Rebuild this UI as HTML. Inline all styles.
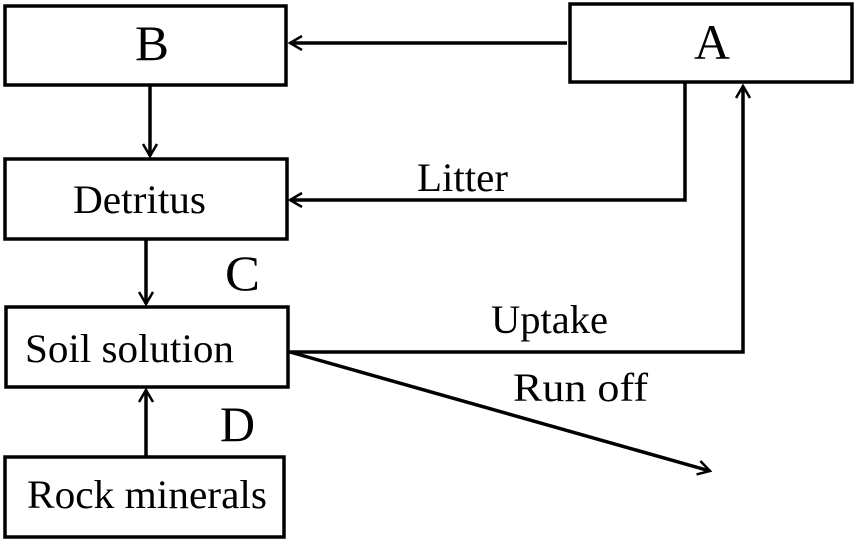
<!DOCTYPE html>
<html><head><style>html,body{margin:0;padding:0;background:#fff}svg{display:block}</style></head>
<body>
<svg width="854" height="541" viewBox="0 0 854 541" xmlns="http://www.w3.org/2000/svg" font-family="Liberation Serif, serif" fill="#000">
<defs>
<marker id="ar" markerWidth="20" markerHeight="20" refX="16" refY="8" orient="auto" markerUnits="userSpaceOnUse">
<path d="M4,1 L16,8 L4,15" fill="none" stroke="#000" stroke-width="2.5"/>
</marker>
</defs>
<g fill="none" stroke="#000" stroke-width="3.5">
<rect x="5" y="6" width="281" height="79"/>
<rect x="570" y="4" width="282" height="78"/>
<rect x="5" y="159" width="282" height="80"/>
<rect x="6" y="307" width="282" height="80"/>
<rect x="5" y="457" width="279" height="80"/>
<line x1="567" y1="43" x2="290" y2="43" marker-end="url(#ar)"/>
<line x1="150" y1="86" x2="150" y2="156" marker-end="url(#ar)"/>
<polyline points="685,83 685,200 290,200" marker-end="url(#ar)"/>
<line x1="146" y1="240" x2="146" y2="304" marker-end="url(#ar)"/>
<polyline points="288,352 743,352 743,86" marker-end="url(#ar)"/>
<line x1="290" y1="352" x2="710" y2="471" marker-end="url(#ar)"/>
<line x1="146" y1="456" x2="146" y2="390" marker-end="url(#ar)"/>
</g>
<text x="135" y="60" font-size="50" textLength="34" lengthAdjust="spacingAndGlyphs">B</text>
<text x="694" y="59" font-size="50" textLength="36" lengthAdjust="spacingAndGlyphs">A</text>
<text x="73" y="213" font-size="40" textLength="133" lengthAdjust="spacingAndGlyphs">Detritus</text>
<text x="417" y="191" font-size="40" textLength="91" lengthAdjust="spacingAndGlyphs">Litter</text>
<text x="225" y="290" font-size="50" textLength="35" lengthAdjust="spacingAndGlyphs">C</text>
<text x="491" y="333" font-size="40" textLength="117" lengthAdjust="spacingAndGlyphs">Uptake</text>
<text x="25" y="362" font-size="40" textLength="209" lengthAdjust="spacingAndGlyphs">Soil solution</text>
<text x="513" y="401" font-size="40" textLength="135" lengthAdjust="spacingAndGlyphs">Run off</text>
<text x="220" y="441" font-size="50" textLength="35" lengthAdjust="spacingAndGlyphs">D</text>
<text x="27" y="508" font-size="40" textLength="240" lengthAdjust="spacingAndGlyphs">Rock minerals</text>
</svg>
</body></html>
